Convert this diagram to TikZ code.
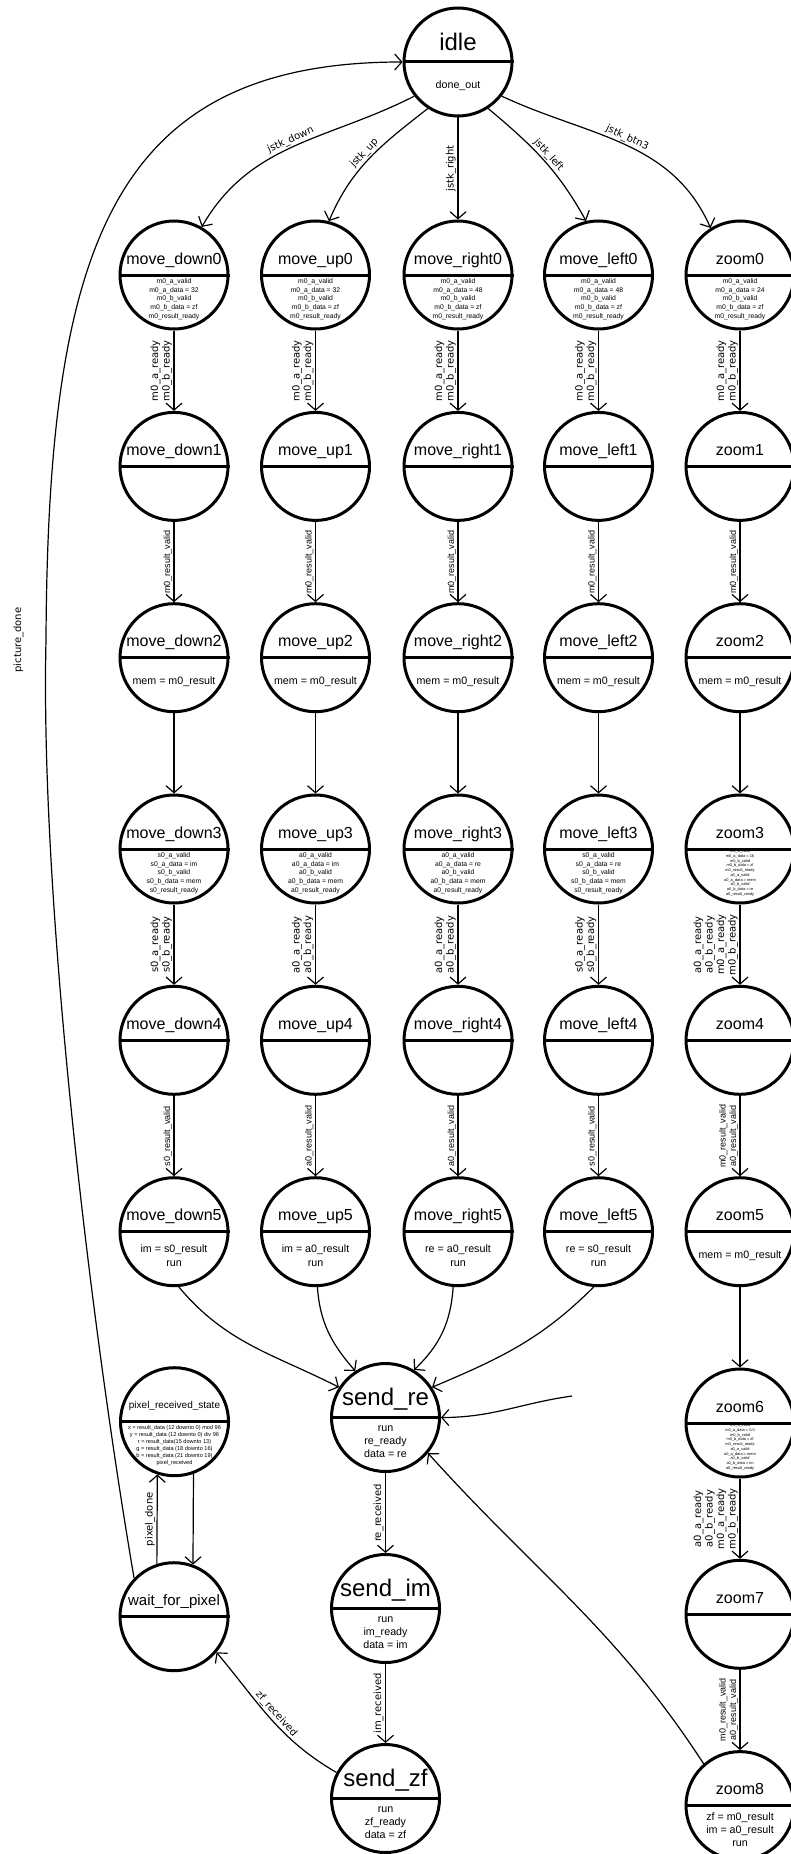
\documentclass[tikz,border=0pt]{standalone}
\usepackage{fontspec}
\setmainfont{Liberation Sans}
\newfontfamily\lblfont{DejaVu Sans}
\usetikzlibrary{arrows.meta,calc}
\newcommand\cfontA{\fontsize{10.7}{13.3}\selectfont}
\newcommand\cfontB{\fontsize{6.8}{8.75}\selectfont}
\newcommand\cfontC{\fontsize{3.9}{4.7}\selectfont}
\newcommand\cfontD{\fontsize{5.6}{6.9}\selectfont}
\tikzset{
  stc/.style={circle, draw, line width=3pt, minimum size=108pt, inner sep=0pt},
  divl/.style={line width=3pt},
  edge/.style={line width=1.2pt, -{Straight Barb[length=7pt,width=16pt,line width=1.2pt]}},
  lab/.style={font=\lblfont\fontsize{10}{11.5}\selectfont, align=center, inner sep=1.5pt},
  vlab/.style={lab, rotate=90, anchor=south},
  rvlab/.style={font=\fontsize{9}{10.5}\selectfont, align=center, inner sep=1.5pt, rotate=90, anchor=south},
  slab/.style={lab, midway, sloped, above},
}
\newcommand\fsmstate[8]{%
  \node[stc] (#1) at (#2,-#3) {};
  \draw[divl] (#1.west) -- (#1.east);
  \node[anchor=base, inner sep=0pt, font=\fontsize{#4}{#4}\selectfont] (#1t) at ([yshift=#5pt]#1.center) {#6};
  \node[inner sep=0pt, align=center, font=#7] (#1c) at ([yshift=-24pt]#1.center) {#8};
}
\begin{document}
\begin{tikzpicture}[x=1pt,y=1pt]
\useasboundingbox (0,0) rectangle (791,-1854);
\clip (0,0) rectangle (791,-1854);
% idle
\fsmstate{idle}{458}{62}{24}{11}{idle}{\cfontA}{done\_out}
% row 0
\fsmstate{md0}{174}{275}{16}{11}{move\_down0}{\cfontB}{m0\_a\_valid\\m0\_a\_data = 32\\m0\_b\_valid\\m0\_b\_data = zf\\m0\_result\_ready}
\fsmstate{mu0}{315.5}{275}{16}{11}{move\_up0}{\cfontB}{m0\_a\_valid\\m0\_a\_data = 32\\m0\_b\_valid\\m0\_b\_data = zf\\m0\_result\_ready}
\fsmstate{mr0}{458}{275}{16}{11}{move\_right0}{\cfontB}{m0\_a\_valid\\m0\_a\_data = 48\\m0\_b\_valid\\m0\_b\_data = zf\\m0\_result\_ready}
\fsmstate{ml0}{598.5}{275}{16}{11}{move\_left0}{\cfontB}{m0\_a\_valid\\m0\_a\_data = 48\\m0\_b\_valid\\m0\_b\_data = zf\\m0\_result\_ready}
\fsmstate{z0}{740}{275}{16}{11}{zoom0}{\cfontB}{m0\_a\_valid\\m0\_a\_data = 24\\m0\_b\_valid\\m0\_b\_data = zf\\m0\_result\_ready}
% row 1
\fsmstate{md1}{174}{466.4}{16}{11}{move\_down1}{\cfontA}{}
\fsmstate{mu1}{315.5}{466.4}{16}{11}{move\_up1}{\cfontA}{}
\fsmstate{mr1}{458}{466.4}{16}{11}{move\_right1}{\cfontA}{}
\fsmstate{ml1}{598.5}{466.4}{16}{11}{move\_left1}{\cfontA}{}
\fsmstate{z1}{740}{466.4}{16}{11}{zoom1}{\cfontA}{}
% row 2
\fsmstate{md2}{174}{657.7}{16}{11}{move\_down2}{\cfontA}{mem = m0\_result}
\fsmstate{mu2}{315.5}{657.7}{16}{11}{move\_up2}{\cfontA}{mem = m0\_result}
\fsmstate{mr2}{458}{657.7}{16}{11}{move\_right2}{\cfontA}{mem = m0\_result}
\fsmstate{ml2}{598.5}{657.7}{16}{11}{move\_left2}{\cfontA}{mem = m0\_result}
\fsmstate{z2}{740}{657.7}{16}{11}{zoom2}{\cfontA}{mem = m0\_result}
% row 3
\fsmstate{md3}{174}{849}{16}{11}{move\_down3}{\cfontB}{s0\_a\_valid\\s0\_a\_data = im\\s0\_b\_valid\\s0\_b\_data = mem\\s0\_result\_ready}
\fsmstate{mu3}{315.5}{849}{16}{11}{move\_up3}{\cfontB}{a0\_a\_valid\\a0\_a\_data = im\\a0\_b\_valid\\a0\_b\_data = mem\\a0\_result\_ready}
\fsmstate{mr3}{458}{849}{16}{11}{move\_right3}{\cfontB}{a0\_a\_valid\\a0\_a\_data = re\\a0\_b\_valid\\a0\_b\_data = mem\\a0\_result\_ready}
\fsmstate{ml3}{598.5}{849}{16}{11}{move\_left3}{\cfontB}{s0\_a\_valid\\s0\_a\_data = re\\s0\_b\_valid\\s0\_b\_data = mem\\s0\_result\_ready}
\fsmstate{z3}{740}{849}{16}{11}{zoom3}{\cfontC}{m0\_a\_valid\\m0\_a\_data = 16\\m0\_b\_valid\\m0\_b\_data = zf\\m0\_result\_ready\\a0\_a\_valid\\a0\_a\_data = mem\\a0\_b\_valid\\a0\_b\_data = re\\a0\_result\_ready}
% row 4
\fsmstate{md4}{174}{1040.3}{16}{11}{move\_down4}{\cfontA}{}
\fsmstate{mu4}{315.5}{1040.3}{16}{11}{move\_up4}{\cfontA}{}
\fsmstate{mr4}{458}{1040.3}{16}{11}{move\_right4}{\cfontA}{}
\fsmstate{ml4}{598.5}{1040.3}{16}{11}{move\_left4}{\cfontA}{}
\fsmstate{z4}{740}{1040.3}{16}{11}{zoom4}{\cfontA}{}
% row 5
\fsmstate{md5}{174}{1231.7}{16}{11}{move\_down5}{\cfontA}{im = s0\_result\\run}
\fsmstate{mu5}{315.5}{1231.7}{16}{11}{move\_up5}{\cfontA}{im = a0\_result\\run}
\fsmstate{mr5}{458}{1231.7}{16}{11}{move\_right5}{\cfontA}{re = a0\_result\\run}
\fsmstate{ml5}{598.5}{1231.7}{16}{11}{move\_left5}{\cfontA}{re = s0\_result\\run}
\fsmstate{z5}{740}{1231.7}{16}{11}{zoom5}{\cfontA}{mem = m0\_result}
% zoom 6-8
\fsmstate{z6}{740}{1423}{16}{11}{zoom6}{\cfontC}{m0\_a\_valid\\m0\_a\_data = 0.0\\m0\_b\_valid\\m0\_b\_data = zf\\m0\_result\_ready\\a0\_a\_valid\\a0\_a\_data = mem\\a0\_b\_valid\\a0\_b\_data = im\\a0\_result\_ready}
\fsmstate{z7}{740}{1614.3}{16}{11}{zoom7}{\cfontA}{}
\fsmstate{z8}{740}{1805.6}{16}{11}{zoom8}{\cfontA}{zf = m0\_result\\im = a0\_result\\run}
% send states
\fsmstate{sre}{385.5}{1417.5}{24}{12.5}{send\_re}{\cfontA}{run\\re\_ready\\data = re}
\fsmstate{sim}{385.5}{1608.5}{24}{12.5}{send\_im}{\cfontA}{run\\im\_ready\\data = im}
\fsmstate{szf}{385.5}{1798.5}{24}{12.5}{send\_zf}{\cfontA}{run\\zf\_ready\\data = zf}
% pixel states
\fsmstate{prs}{174.5}{1421.7}{10}{13.5}{pixel\_received\_state}{\cfontD}{x = result\_data (12 downto 0) mod 96\\y = result\_data (12 downto 0) div 96\\r = result\_data(15 downto 13)\\g = result\_data (18 downto 16)\\b = result\_data (21 downto 19)\\pixel\_received}
\fsmstate{wfp}{174}{1616.7}{15}{11.7}{wait\_for\_pixel}{\cfontA}{}

% idle -> row 0
\draw[edge] (idle.-142) to[out=207,in=60] node[slab] {jstk\_down} (md0.60);
\draw[edge] (idle.-123) to[out=218,in=67] node[slab] {jstk\_up} (mu0.76);
\draw[edge] (idle.south) -- node[vlab] {jstk\_right} (mr0.north);
\draw[edge] (idle.-57) to[out=-40,in=119] node[slab] {jstk\_left} (ml0.103);
\draw[edge] (idle.-38) to[out=-25,in=114] node[slab] {jstk\_btn3} (z0.122);
% row 0 -> 1
\draw[edge] (md0) -- node[vlab] {m0\_a\_ready\\m0\_b\_ready} (md1);
\draw[edge] (mu0) -- node[vlab] {m0\_a\_ready\\m0\_b\_ready} (mu1);
\draw[edge] (mr0) -- node[vlab] {m0\_a\_ready\\m0\_b\_ready} (mr1);
\draw[edge] (ml0) -- node[vlab] {m0\_a\_ready\\m0\_b\_ready} (ml1);
\draw[edge] (z0) -- node[vlab] {m0\_a\_ready\\m0\_b\_ready} (z1);
% row 1 -> 2
\draw[edge] (md1) -- node[rvlab] {m0\_result\_valid} (md2);
\draw[edge] (mu1) -- node[rvlab] {m0\_result\_valid} (mu2);
\draw[edge] (mr1) -- node[rvlab] {m0\_result\_valid} (mr2);
\draw[edge] (ml1) -- node[rvlab] {m0\_result\_valid} (ml2);
\draw[edge] (z1) -- node[rvlab] {m0\_result\_valid} (z2);
% row 2 -> 3
\draw[edge] (md2) -- (md3);
\draw[edge] (mu2) -- (mu3);
\draw[edge] (mr2) -- (mr3);
\draw[edge] (ml2) -- (ml3);
\draw[edge] (z2) -- (z3);
% row 3 -> 4
\draw[edge] (md3) -- node[vlab] {s0\_a\_ready\\s0\_b\_ready} (md4);
\draw[edge] (mu3) -- node[vlab] {a0\_a\_ready\\a0\_b\_ready} (mu4);
\draw[edge] (mr3) -- node[vlab] {a0\_a\_ready\\a0\_b\_ready} (mr4);
\draw[edge] (ml3) -- node[vlab] {s0\_a\_ready\\s0\_b\_ready} (ml4);
\draw[edge] (z3) -- node[vlab] {a0\_a\_ready\\a0\_b\_ready\\m0\_a\_ready\\m0\_b\_ready} (z4);
% row 4 -> 5
\draw[edge] (md4) -- node[rvlab] {s0\_result\_valid} (md5);
\draw[edge] (mu4) -- node[rvlab] {a0\_result\_valid} (mu5);
\draw[edge] (mr4) -- node[rvlab] {a0\_result\_valid} (mr5);
\draw[edge] (ml4) -- node[rvlab] {s0\_result\_valid} (ml5);
\draw[edge] (z4) -- node[rvlab] {m0\_result\_valid\\a0\_result\_valid} (z5);
% zoom column
\draw[edge] (z5) -- (z6);
\draw[edge] (z6) -- node[vlab] {a0\_a\_ready\\a0\_b\_ready\\m0\_a\_ready\\m0\_b\_ready} (z7);
\draw[edge] (z7) -- node[rvlab] {m0\_result\_valid\\a0\_result\_valid} (z8);
% row 5 -> send_re
\draw[edge] (md5.-85) to[out=-50,in=153] (sre.147);
\draw[edge] (mu5.-88) to[out=-86,in=131] (sre.123);
\draw[edge] (mr5.-95) to[out=-94,in=44] (sre.59);
\draw[edge] (ml5.-95) to[out=-135,in=23] (sre.33);
\coordinate (stub) at (572,-1396);
\draw[edge] (stub) to[out=188,in=0] (sre.east);
\draw[edge] (z8.131) to[out=123,in=-48] (sre.-40);
% send chain
\draw[edge] (sre) -- node[vlab] {re\_received} (sim);
\draw[edge] (sim) -- node[vlab] {im\_received} (szf);
\draw[edge] (szf.152) to[out=150,in=-50] node[slab] {zf\_received} (wfp.-40);
% pixel loop
\draw[edge] (wfp.108) -- node[vlab] {pixel\_done} (prs.-108);
\draw[edge] (prs.-70) -- (wfp.70);
\draw[edge] (wfp.136) .. controls (90,-1320) and (40,-900) .. (46,-640)
  node[lab, rotate=90, anchor=south, inner xsep=0pt, inner ysep=22pt] {picture\_done}
  .. controls (48,-250) and (110,-62) .. (idle.west);
\end{tikzpicture}
\end{document}
